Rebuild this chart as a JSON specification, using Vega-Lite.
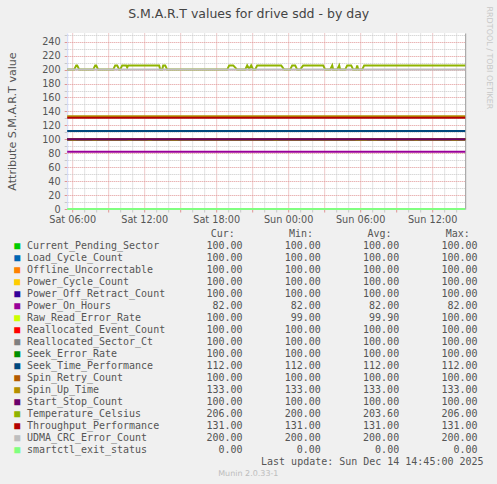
{
  "$schema": "https://vega.github.io/schema/vega-lite/v6.json",
  "background": "#f0f0f0",
  "padding": {"left": 6.2, "top": 5, "right": 10, "bottom": 10},
  "bounds": "flush",
  "spacing": 19,
  "config": {
    "font": "DejaVu Sans",
    "view": {"stroke": null},
    "axis": {"labelFont": "DejaVu Sans", "labelFontSize": 9.7, "labelColor": "#555555", "titleFont": "DejaVu Sans", "titleFontWeight": "normal", "titleColor": "#555555"}
  },
  "datasets": {
    "stats": [
      {"name": "Current_Pending_Sector", "Cur": 100, "Min": 100, "Avg": 100, "Max": 100},
      {"name": "Load_Cycle_Count", "Cur": 100, "Min": 100, "Avg": 100, "Max": 100},
      {"name": "Offline_Uncorrectable", "Cur": 100, "Min": 100, "Avg": 100, "Max": 100},
      {"name": "Power_Cycle_Count", "Cur": 100, "Min": 100, "Avg": 100, "Max": 100},
      {"name": "Power_Off_Retract_Count", "Cur": 100, "Min": 100, "Avg": 100, "Max": 100},
      {"name": "Power_On_Hours", "Cur": 82, "Min": 82, "Avg": 82, "Max": 82},
      {"name": "Raw_Read_Error_Rate", "Cur": 100, "Min": 99, "Avg": 99.9, "Max": 100},
      {"name": "Reallocated_Event_Count", "Cur": 100, "Min": 100, "Avg": 100, "Max": 100},
      {"name": "Reallocated_Sector_Ct", "Cur": 100, "Min": 100, "Avg": 100, "Max": 100},
      {"name": "Seek_Error_Rate", "Cur": 100, "Min": 100, "Avg": 100, "Max": 100},
      {"name": "Seek_Time_Performance", "Cur": 112, "Min": 112, "Avg": 112, "Max": 112},
      {"name": "Spin_Retry_Count", "Cur": 100, "Min": 100, "Avg": 100, "Max": 100},
      {"name": "Spin_Up_Time", "Cur": 133, "Min": 133, "Avg": 133, "Max": 133},
      {"name": "Start_Stop_Count", "Cur": 100, "Min": 100, "Avg": 100, "Max": 100},
      {"name": "Temperature_Celsius", "Cur": 206, "Min": 200, "Avg": 203.6, "Max": 206},
      {"name": "Throughput_Performance", "Cur": 131, "Min": 131, "Avg": 131, "Max": 131},
      {"name": "UDMA_CRC_Error_Count", "Cur": 200, "Min": 200, "Avg": 200, "Max": 200},
      {"name": "smartctl_exit_status", "Cur": 0, "Min": 0, "Avg": 0, "Max": 0}
    ],
    "ts": [
      {"s": "Current_Pending_Sector", "t": "2025-12-13T05:35:00Z", "v": 100},
      {"s": "Current_Pending_Sector", "t": "2025-12-14T14:45:00Z", "v": 100},
      {"s": "Load_Cycle_Count", "t": "2025-12-13T05:35:00Z", "v": 100},
      {"s": "Load_Cycle_Count", "t": "2025-12-14T14:45:00Z", "v": 100},
      {"s": "Offline_Uncorrectable", "t": "2025-12-13T05:35:00Z", "v": 100},
      {"s": "Offline_Uncorrectable", "t": "2025-12-14T14:45:00Z", "v": 100},
      {"s": "Power_Cycle_Count", "t": "2025-12-13T05:35:00Z", "v": 100},
      {"s": "Power_Cycle_Count", "t": "2025-12-14T14:45:00Z", "v": 100},
      {"s": "Power_Off_Retract_Count", "t": "2025-12-13T05:35:00Z", "v": 100},
      {"s": "Power_Off_Retract_Count", "t": "2025-12-14T14:45:00Z", "v": 100},
      {"s": "Power_On_Hours", "t": "2025-12-13T05:35:00Z", "v": 82},
      {"s": "Power_On_Hours", "t": "2025-12-14T14:45:00Z", "v": 82},
      {"s": "Raw_Read_Error_Rate", "t": "2025-12-13T05:35:00Z", "v": 100},
      {"s": "Raw_Read_Error_Rate", "t": "2025-12-13T05:50:00Z", "v": 100},
      {"s": "Raw_Read_Error_Rate", "t": "2025-12-13T05:55:00Z", "v": 99},
      {"s": "Raw_Read_Error_Rate", "t": "2025-12-13T06:15:00Z", "v": 99},
      {"s": "Raw_Read_Error_Rate", "t": "2025-12-13T06:20:00Z", "v": 100},
      {"s": "Raw_Read_Error_Rate", "t": "2025-12-13T07:40:00Z", "v": 100},
      {"s": "Raw_Read_Error_Rate", "t": "2025-12-13T07:45:00Z", "v": 99},
      {"s": "Raw_Read_Error_Rate", "t": "2025-12-13T08:00:00Z", "v": 99},
      {"s": "Raw_Read_Error_Rate", "t": "2025-12-13T08:05:00Z", "v": 100},
      {"s": "Raw_Read_Error_Rate", "t": "2025-12-13T10:35:00Z", "v": 100},
      {"s": "Raw_Read_Error_Rate", "t": "2025-12-13T10:40:00Z", "v": 99},
      {"s": "Raw_Read_Error_Rate", "t": "2025-12-13T10:55:00Z", "v": 99},
      {"s": "Raw_Read_Error_Rate", "t": "2025-12-13T11:00:00Z", "v": 100},
      {"s": "Raw_Read_Error_Rate", "t": "2025-12-13T12:15:00Z", "v": 100},
      {"s": "Raw_Read_Error_Rate", "t": "2025-12-13T12:20:00Z", "v": 99},
      {"s": "Raw_Read_Error_Rate", "t": "2025-12-13T12:35:00Z", "v": 99},
      {"s": "Raw_Read_Error_Rate", "t": "2025-12-13T12:40:00Z", "v": 100},
      {"s": "Raw_Read_Error_Rate", "t": "2025-12-13T14:10:00Z", "v": 100},
      {"s": "Raw_Read_Error_Rate", "t": "2025-12-13T14:15:00Z", "v": 99},
      {"s": "Raw_Read_Error_Rate", "t": "2025-12-13T14:45:00Z", "v": 99},
      {"s": "Raw_Read_Error_Rate", "t": "2025-12-13T14:50:00Z", "v": 100},
      {"s": "Raw_Read_Error_Rate", "t": "2025-12-13T22:45:00Z", "v": 100},
      {"s": "Raw_Read_Error_Rate", "t": "2025-12-13T22:50:00Z", "v": 99},
      {"s": "Raw_Read_Error_Rate", "t": "2025-12-13T23:05:00Z", "v": 99},
      {"s": "Raw_Read_Error_Rate", "t": "2025-12-13T23:10:00Z", "v": 100},
      {"s": "Raw_Read_Error_Rate", "t": "2025-12-14T05:35:00Z", "v": 100},
      {"s": "Raw_Read_Error_Rate", "t": "2025-12-14T05:40:00Z", "v": 99},
      {"s": "Raw_Read_Error_Rate", "t": "2025-12-14T06:30:00Z", "v": 99},
      {"s": "Raw_Read_Error_Rate", "t": "2025-12-14T06:35:00Z", "v": 100},
      {"s": "Raw_Read_Error_Rate", "t": "2025-12-14T06:55:00Z", "v": 100},
      {"s": "Raw_Read_Error_Rate", "t": "2025-12-14T07:00:00Z", "v": 99},
      {"s": "Raw_Read_Error_Rate", "t": "2025-12-14T07:20:00Z", "v": 99},
      {"s": "Raw_Read_Error_Rate", "t": "2025-12-14T07:25:00Z", "v": 100},
      {"s": "Raw_Read_Error_Rate", "t": "2025-12-14T10:30:00Z", "v": 100},
      {"s": "Raw_Read_Error_Rate", "t": "2025-12-14T10:35:00Z", "v": 99},
      {"s": "Raw_Read_Error_Rate", "t": "2025-12-14T10:45:00Z", "v": 99},
      {"s": "Raw_Read_Error_Rate", "t": "2025-12-14T10:50:00Z", "v": 100},
      {"s": "Raw_Read_Error_Rate", "t": "2025-12-14T13:35:00Z", "v": 100},
      {"s": "Raw_Read_Error_Rate", "t": "2025-12-14T13:40:00Z", "v": 99},
      {"s": "Raw_Read_Error_Rate", "t": "2025-12-14T14:05:00Z", "v": 99},
      {"s": "Raw_Read_Error_Rate", "t": "2025-12-14T14:10:00Z", "v": 100},
      {"s": "Raw_Read_Error_Rate", "t": "2025-12-14T14:45:00Z", "v": 100},
      {"s": "Reallocated_Event_Count", "t": "2025-12-13T05:35:00Z", "v": 100},
      {"s": "Reallocated_Event_Count", "t": "2025-12-14T14:45:00Z", "v": 100},
      {"s": "Reallocated_Sector_Ct", "t": "2025-12-13T05:35:00Z", "v": 100},
      {"s": "Reallocated_Sector_Ct", "t": "2025-12-14T14:45:00Z", "v": 100},
      {"s": "Seek_Error_Rate", "t": "2025-12-13T05:35:00Z", "v": 100},
      {"s": "Seek_Error_Rate", "t": "2025-12-14T14:45:00Z", "v": 100},
      {"s": "Seek_Time_Performance", "t": "2025-12-13T05:35:00Z", "v": 112},
      {"s": "Seek_Time_Performance", "t": "2025-12-14T14:45:00Z", "v": 112},
      {"s": "Spin_Retry_Count", "t": "2025-12-13T05:35:00Z", "v": 100},
      {"s": "Spin_Retry_Count", "t": "2025-12-14T14:45:00Z", "v": 100},
      {"s": "Spin_Up_Time", "t": "2025-12-13T05:35:00Z", "v": 133},
      {"s": "Spin_Up_Time", "t": "2025-12-14T14:45:00Z", "v": 133},
      {"s": "Start_Stop_Count", "t": "2025-12-13T05:35:00Z", "v": 100},
      {"s": "Start_Stop_Count", "t": "2025-12-14T14:45:00Z", "v": 100},
      {"s": "Temperature_Celsius", "t": "2025-12-13T05:35:00Z", "v": 200},
      {"s": "Temperature_Celsius", "t": "2025-12-13T06:10:00Z", "v": 200},
      {"s": "Temperature_Celsius", "t": "2025-12-13T06:20:00Z", "v": 206},
      {"s": "Temperature_Celsius", "t": "2025-12-13T06:25:00Z", "v": 206},
      {"s": "Temperature_Celsius", "t": "2025-12-13T06:35:00Z", "v": 200},
      {"s": "Temperature_Celsius", "t": "2025-12-13T07:45:00Z", "v": 200},
      {"s": "Temperature_Celsius", "t": "2025-12-13T07:55:00Z", "v": 206},
      {"s": "Temperature_Celsius", "t": "2025-12-13T08:00:00Z", "v": 206},
      {"s": "Temperature_Celsius", "t": "2025-12-13T08:10:00Z", "v": 200},
      {"s": "Temperature_Celsius", "t": "2025-12-13T09:25:00Z", "v": 200},
      {"s": "Temperature_Celsius", "t": "2025-12-13T09:35:00Z", "v": 206},
      {"s": "Temperature_Celsius", "t": "2025-12-13T09:45:00Z", "v": 206},
      {"s": "Temperature_Celsius", "t": "2025-12-13T09:55:00Z", "v": 200},
      {"s": "Temperature_Celsius", "t": "2025-12-13T10:00:00Z", "v": 200},
      {"s": "Temperature_Celsius", "t": "2025-12-13T10:10:00Z", "v": 206},
      {"s": "Temperature_Celsius", "t": "2025-12-13T10:30:00Z", "v": 206},
      {"s": "Temperature_Celsius", "t": "2025-12-13T10:35:00Z", "v": 203},
      {"s": "Temperature_Celsius", "t": "2025-12-13T10:40:00Z", "v": 206},
      {"s": "Temperature_Celsius", "t": "2025-12-13T13:15:00Z", "v": 206},
      {"s": "Temperature_Celsius", "t": "2025-12-13T13:20:00Z", "v": 200},
      {"s": "Temperature_Celsius", "t": "2025-12-13T13:30:00Z", "v": 200},
      {"s": "Temperature_Celsius", "t": "2025-12-13T13:35:00Z", "v": 206},
      {"s": "Temperature_Celsius", "t": "2025-12-13T13:45:00Z", "v": 206},
      {"s": "Temperature_Celsius", "t": "2025-12-13T13:55:00Z", "v": 200},
      {"s": "Temperature_Celsius", "t": "2025-12-13T18:55:00Z", "v": 200},
      {"s": "Temperature_Celsius", "t": "2025-12-13T19:05:00Z", "v": 206},
      {"s": "Temperature_Celsius", "t": "2025-12-13T19:25:00Z", "v": 206},
      {"s": "Temperature_Celsius", "t": "2025-12-13T19:45:00Z", "v": 200},
      {"s": "Temperature_Celsius", "t": "2025-12-13T20:25:00Z", "v": 200},
      {"s": "Temperature_Celsius", "t": "2025-12-13T20:35:00Z", "v": 206},
      {"s": "Temperature_Celsius", "t": "2025-12-13T20:45:00Z", "v": 201},
      {"s": "Temperature_Celsius", "t": "2025-12-13T20:55:00Z", "v": 206},
      {"s": "Temperature_Celsius", "t": "2025-12-13T21:05:00Z", "v": 200},
      {"s": "Temperature_Celsius", "t": "2025-12-13T21:15:00Z", "v": 200},
      {"s": "Temperature_Celsius", "t": "2025-12-13T21:25:00Z", "v": 206},
      {"s": "Temperature_Celsius", "t": "2025-12-13T23:25:00Z", "v": 206},
      {"s": "Temperature_Celsius", "t": "2025-12-13T23:40:00Z", "v": 200},
      {"s": "Temperature_Celsius", "t": "2025-12-14T00:10:00Z", "v": 200},
      {"s": "Temperature_Celsius", "t": "2025-12-14T00:20:00Z", "v": 206},
      {"s": "Temperature_Celsius", "t": "2025-12-14T00:35:00Z", "v": 206},
      {"s": "Temperature_Celsius", "t": "2025-12-14T00:45:00Z", "v": 200},
      {"s": "Temperature_Celsius", "t": "2025-12-14T01:00:00Z", "v": 200},
      {"s": "Temperature_Celsius", "t": "2025-12-14T01:15:00Z", "v": 206},
      {"s": "Temperature_Celsius", "t": "2025-12-14T02:55:00Z", "v": 206},
      {"s": "Temperature_Celsius", "t": "2025-12-14T03:05:00Z", "v": 200},
      {"s": "Temperature_Celsius", "t": "2025-12-14T03:30:00Z", "v": 200},
      {"s": "Temperature_Celsius", "t": "2025-12-14T03:40:00Z", "v": 206},
      {"s": "Temperature_Celsius", "t": "2025-12-14T03:45:00Z", "v": 200},
      {"s": "Temperature_Celsius", "t": "2025-12-14T04:05:00Z", "v": 200},
      {"s": "Temperature_Celsius", "t": "2025-12-14T04:15:00Z", "v": 206},
      {"s": "Temperature_Celsius", "t": "2025-12-14T04:20:00Z", "v": 200},
      {"s": "Temperature_Celsius", "t": "2025-12-14T04:45:00Z", "v": 200},
      {"s": "Temperature_Celsius", "t": "2025-12-14T04:55:00Z", "v": 206},
      {"s": "Temperature_Celsius", "t": "2025-12-14T05:15:00Z", "v": 206},
      {"s": "Temperature_Celsius", "t": "2025-12-14T05:25:00Z", "v": 200},
      {"s": "Temperature_Celsius", "t": "2025-12-14T05:40:00Z", "v": 200},
      {"s": "Temperature_Celsius", "t": "2025-12-14T05:45:00Z", "v": 206},
      {"s": "Temperature_Celsius", "t": "2025-12-14T05:50:00Z", "v": 200},
      {"s": "Temperature_Celsius", "t": "2025-12-14T06:10:00Z", "v": 200},
      {"s": "Temperature_Celsius", "t": "2025-12-14T06:20:00Z", "v": 206},
      {"s": "Temperature_Celsius", "t": "2025-12-14T14:45:00Z", "v": 206},
      {"s": "Throughput_Performance", "t": "2025-12-13T05:35:00Z", "v": 131},
      {"s": "Throughput_Performance", "t": "2025-12-14T14:45:00Z", "v": 131},
      {"s": "UDMA_CRC_Error_Count", "t": "2025-12-13T05:35:00Z", "v": 200},
      {"s": "UDMA_CRC_Error_Count", "t": "2025-12-14T14:45:00Z", "v": 200},
      {"s": "smartctl_exit_status", "t": "2025-12-13T05:35:00Z", "v": 0},
      {"s": "smartctl_exit_status", "t": "2025-12-14T14:45:00Z", "v": 0}
    ]
  },
  "vconcat": [
    {
      "width": 398,
      "height": 176,
      "view": {"fill": "#ffffff", "stroke": null},
      "title": {"text": "S.M.A.R.T values for drive sdd - by day", "font": "DejaVu Sans", "fontSize": 12.5, "fontWeight": "normal", "color": "#444444", "anchor": "middle", "frame": "group", "dx": -17.5, "baseline": "alphabetic", "offset": 3},
      "data": {"name": "ts"},
      "layer": [
        {
          "transform": [{"filter": {"not": {"field": "s", "oneOf": ["UDMA_CRC_Error_Count", "smartctl_exit_status"]}}}],
          "mark": {"type": "line", "strokeWidth": 2},
          "encoding": {
            "x": {
              "field": "t", "type": "temporal",
              "scale": {"type": "utc", "domain": [{"year": 2025, "month": 12, "date": 13, "hours": 5, "minutes": 35, "utc": true}, {"year": 2025, "month": 12, "date": 14, "hours": 14, "minutes": 45, "utc": true}]},
              "axis": {
                "orient": "bottom",
                "values": [
                  {"year": 2025, "month": 12, "date": 13, "hours": 7, "utc": true},
                  {"year": 2025, "month": 12, "date": 13, "hours": 8, "utc": true},
                  {"year": 2025, "month": 12, "date": 13, "hours": 10, "utc": true},
                  {"year": 2025, "month": 12, "date": 13, "hours": 11, "utc": true},
                  {"year": 2025, "month": 12, "date": 13, "hours": 13, "utc": true},
                  {"year": 2025, "month": 12, "date": 13, "hours": 14, "utc": true},
                  {"year": 2025, "month": 12, "date": 13, "hours": 16, "utc": true},
                  {"year": 2025, "month": 12, "date": 13, "hours": 17, "utc": true},
                  {"year": 2025, "month": 12, "date": 13, "hours": 19, "utc": true},
                  {"year": 2025, "month": 12, "date": 13, "hours": 20, "utc": true},
                  {"year": 2025, "month": 12, "date": 13, "hours": 22, "utc": true},
                  {"year": 2025, "month": 12, "date": 13, "hours": 23, "utc": true},
                  {"year": 2025, "month": 12, "date": 14, "hours": 1, "utc": true},
                  {"year": 2025, "month": 12, "date": 14, "hours": 2, "utc": true},
                  {"year": 2025, "month": 12, "date": 14, "hours": 4, "utc": true},
                  {"year": 2025, "month": 12, "date": 14, "hours": 5, "utc": true},
                  {"year": 2025, "month": 12, "date": 14, "hours": 7, "utc": true},
                  {"year": 2025, "month": 12, "date": 14, "hours": 8, "utc": true},
                  {"year": 2025, "month": 12, "date": 14, "hours": 10, "utc": true},
                  {"year": 2025, "month": 12, "date": 14, "hours": 11, "utc": true},
                  {"year": 2025, "month": 12, "date": 14, "hours": 13, "utc": true},
                  {"year": 2025, "month": 12, "date": 14, "hours": 14, "utc": true}
                ],
                "labels": false, "domain": false, "ticks": true, "tickSize": 3, "tickColor": "#c8c8c8", "grid": true, "gridColor": "#c8c8c8", "gridDash": [1, 1], "title": null
              }
            },
            "y": {
              "field": "v", "type": "quantitative",
              "scale": {"domain": [0, 252.5], "nice": false},
              "axis": {"orient": "left", "values": [10, 30, 50, 70, 90, 110, 130, 150, 170, 190, 210, 230, 250], "labels": false, "domain": false, "ticks": true, "tickSize": 3, "tickColor": "#c8c8c8", "grid": true, "gridColor": "#c8c8c8", "gridDash": [1, 1], "title": null}
            },
            "color": {
              "field": "s", "type": "nominal", "legend": null,
              "scale": {
                "domain": ["Current_Pending_Sector", "Load_Cycle_Count", "Offline_Uncorrectable", "Power_Cycle_Count", "Power_Off_Retract_Count", "Power_On_Hours", "Raw_Read_Error_Rate", "Reallocated_Event_Count", "Reallocated_Sector_Ct", "Seek_Error_Rate", "Seek_Time_Performance", "Spin_Retry_Count", "Spin_Up_Time", "Start_Stop_Count", "Temperature_Celsius", "Throughput_Performance", "UDMA_CRC_Error_Count", "smartctl_exit_status"],
                "range": ["#00CC00", "#0066B3", "#FF8000", "#FFCC00", "#330099", "#990099", "#CCFF00", "#FF0000", "#808080", "#008F00", "#00487D", "#B35A00", "#B38F00", "#6B006B", "#8FB300", "#B30000", "#BEBEBE", "#80FF80"]
              }
            }
          }
        },
        {
          "transform": [{"filter": {"field": "s", "equal": "UDMA_CRC_Error_Count"}}],
          "mark": {"type": "line", "strokeWidth": 2},
          "encoding": {
            "x": {
              "field": "t", "type": "temporal",
              "axis": {
                "orient": "bottom",
                "values": [
                  {"year": 2025, "month": 12, "date": 13, "hours": 6, "utc": true},
                  {"year": 2025, "month": 12, "date": 13, "hours": 9, "utc": true},
                  {"year": 2025, "month": 12, "date": 13, "hours": 12, "utc": true},
                  {"year": 2025, "month": 12, "date": 13, "hours": 15, "utc": true},
                  {"year": 2025, "month": 12, "date": 13, "hours": 18, "utc": true},
                  {"year": 2025, "month": 12, "date": 13, "hours": 21, "utc": true},
                  {"year": 2025, "month": 12, "date": 14, "hours": 0, "utc": true},
                  {"year": 2025, "month": 12, "date": 14, "hours": 3, "utc": true},
                  {"year": 2025, "month": 12, "date": 14, "hours": 6, "utc": true},
                  {"year": 2025, "month": 12, "date": 14, "hours": 9, "utc": true},
                  {"year": 2025, "month": 12, "date": 14, "hours": 12, "utc": true}
                ],
                "format": "%a %H:%M", "labelExpr": "utchours(datum.value) % 6 == 0 ? datum.label : ''",
                "labelFlush": false, "labelOverlap": false, "labelPadding": 2.5,
                "ticks": true, "tickSize": 3, "tickColor": "#e09494", "grid": true, "gridColor": "#e09494", "gridDash": [1, 1],
                "domain": true, "domainColor": "#cfd6f8", "title": null
              }
            },
            "y": {
              "field": "v", "type": "quantitative",
              "axis": {"orient": "left", "values": [0, 20, 40, 60, 80, 100, 120, 140, 160, 180, 200, 220, 240], "labelPadding": 4, "ticks": true, "tickSize": 3, "tickColor": "#e09494", "grid": true, "gridColor": "#e09494", "gridDash": [1, 1], "domain": true, "domainColor": "#cfd6f8", "title": "Attribute S.M.A.R.T value", "titleFontSize": 11.1, "titleX": -52, "titleY": 88, "titleAngle": 270, "titleAlign": "center", "titleBaseline": "alphabetic"}
            },
            "color": {"field": "s", "type": "nominal", "legend": null}
          }
        },
        {
          "transform": [{"filter": {"field": "s", "equal": "smartctl_exit_status"}}],
          "mark": {"type": "line", "strokeWidth": 2},
          "encoding": {
            "x": {"field": "t", "type": "temporal", "axis": null},
            "y": {
              "field": "v", "type": "quantitative",
              "axis": {"orient": "right", "domain": true, "domainColor": "#9a9a9a", "labels": false, "ticks": false, "grid": false, "title": null}
            },
            "color": {"field": "s", "type": "nominal", "legend": null}
          }
        }
      ],
      "resolve": {"axis": {"x": "independent", "y": "independent"}}
    },
    {
      "width": 398,
      "height": 252,
      "view": {"stroke": null},
      "encoding": {
        "y": {
          "field": "name", "type": "nominal",
          "scale": {"type": "point", "padding": 0.5, "domain": ["hdr", "Current_Pending_Sector", "Load_Cycle_Count", "Offline_Uncorrectable", "Power_Cycle_Count", "Power_Off_Retract_Count", "Power_On_Hours", "Raw_Read_Error_Rate", "Reallocated_Event_Count", "Reallocated_Sector_Ct", "Seek_Error_Rate", "Seek_Time_Performance", "Spin_Retry_Count", "Spin_Up_Time", "Start_Stop_Count", "Temperature_Celsius", "Throughput_Performance", "UDMA_CRC_Error_Count", "smartctl_exit_status", "upd", "munin"]},
          "axis": {"orient": "right", "domain": false, "ticks": false, "labels": false, "grid": false, "title": "RRDTOOL / TOBI OETIKER", "titleFont": "DejaVu Sans", "titleFontSize": 8, "titleFontWeight": "normal", "titleColor": "#c8c8c8", "titleAngle": 90, "titleAlign": "left", "titleBaseline": "middle", "titleX": 23.3, "titleY": -222}
        },
        "x": {"field": "stat", "type": "nominal", "scale": {"type": "point", "domain": ["Cur", "Min", "Avg", "Max"], "range": [175.3, 410.3], "padding": 0}, "axis": null}
      },
      "layer": [
        {
          "data": {"name": "stats"},
          "mark": {"type": "text", "align": "center", "dx": -225.3, "font": "DejaVu Sans Mono", "fontSize": 10},
          "encoding": {
            "x": {"datum": "Cur", "type": "nominal"},
            "text": {"value": "■"},
            "color": {"field": "name", "type": "nominal", "legend": null}
          }
        },
        {
          "data": {"name": "stats"},
          "mark": {"type": "text", "align": "left", "dx": -215.6, "font": "DejaVu Sans Mono", "fontSize": 10, "color": "#555555"},
          "encoding": {
            "x": {"datum": "Cur", "type": "nominal"},
            "text": {"field": "name"}
          }
        },
        {
          "data": {"name": "stats"},
          "transform": [{"fold": ["Cur", "Min", "Avg", "Max"], "as": ["stat", "val"]}],
          "mark": {"type": "text", "align": "right", "font": "DejaVu Sans Mono", "fontSize": 10, "color": "#555555"},
          "encoding": {
            "text": {"field": "val", "type": "quantitative", "format": ".2f"}
          }
        },
        {
          "data": {"values": [
            {"name": "hdr", "stat": "Cur", "label": "Cur:"},
            {"name": "hdr", "stat": "Min", "label": "Min:"},
            {"name": "hdr", "stat": "Avg", "label": "Avg:"},
            {"name": "hdr", "stat": "Max", "label": "Max:"}
          ]},
          "mark": {"type": "text", "align": "right", "dx": -7.7, "font": "DejaVu Sans Mono", "fontSize": 10, "color": "#555555"},
          "encoding": {
            "text": {"field": "label"}
          }
        },
        {
          "data": {"values": [{"name": "upd", "stat": "Max", "label": "Last update: Sun Dec 14 14:45:00 2025"}]},
          "mark": {"type": "text", "align": "right", "dx": 6, "font": "DejaVu Sans Mono", "fontSize": 10, "color": "#555555"},
          "encoding": {
            "text": {"field": "label"}
          }
        },
        {
          "data": {"values": [{"name": "munin", "stat": "Min", "label": "Munin 2.0.33-1"}]},
          "mark": {"type": "text", "align": "center", "dx": -72.5, "font": "DejaVu Sans", "fontSize": 8, "color": "#bdbdbd"},
          "encoding": {
            "text": {"field": "label"}
          }
        }
      ]
    }
  ]
}
